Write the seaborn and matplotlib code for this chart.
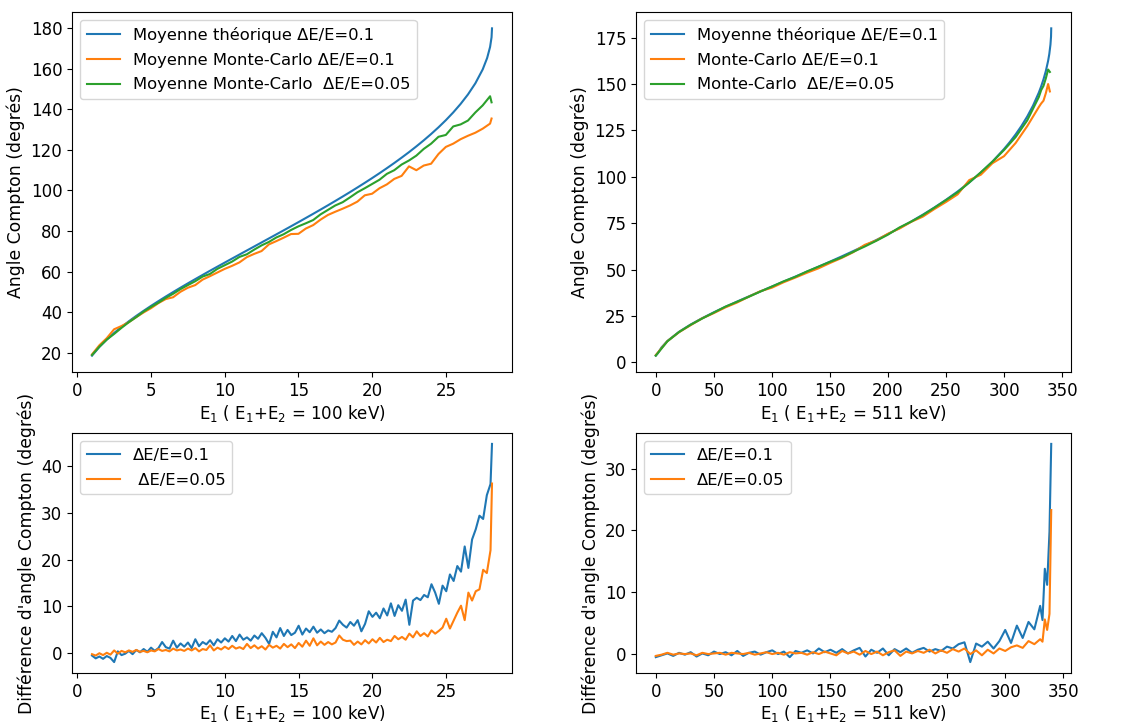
import numpy as np
import matplotlib
matplotlib.use("Agg")
import matplotlib.pyplot as plt
import seaborn as sns

# ---------------- data : E1+E2 = 100 keV ----------------
x_theo_100 = list(np.arange(1, 28, 0.5)) + [27.8, 28.0, 28.1, 28.13]
theo_100 = [18.49, 22.77, 26.40, 29.68, 32.63, 35.45, 38.09, 40.60, 43.03, 45.36,
            47.64, 49.85, 52.02, 54.15, 56.24, 58.31, 60.36, 62.38, 64.39, 66.39,
            68.38, 70.37, 72.35, 74.34, 76.33, 78.32, 80.32, 82.33, 84.36, 86.41,
            88.47, 90.56, 92.67, 94.82, 96.99, 99.20, 101.46, 103.76, 106.11, 108.52,
            111.00, 113.55, 116.19, 118.91, 121.76, 124.73, 127.86, 131.16, 134.69, 138.51,
            142.70, 147.39, 152.87, 159.75, 165.37, 170.82, 175.63, 180.0]

x_mc_100 = list(np.arange(1, 28.01, 0.5)) + [28.1]
mc01_100 = [19.1, 23.6, 27.1, 31.5, 33.1, 35.0, 37.5, 39.8, 41.9, 44.4,
            46.4, 47.3, 50.0, 52.0, 53.3, 56.0, 57.7, 59.5, 61.3, 62.8,
            64.5, 67.1, 68.7, 70.1, 73.4, 75.0, 76.7, 78.5, 78.6, 81.2,
            82.9, 85.6, 87.9, 89.5, 91.0, 92.6, 94.5, 97.6, 98.4, 101.1,
            103.0, 105.7, 107.2, 111.9, 110.0, 112.3, 113.2, 118.0, 121.5, 123.1,
            125.3, 127.0, 128.5, 130.5, 133.0, 135.5]
mc005_100 = [18.8, 22.9, 26.4, 29.2, 32.2, 35.0, 37.5, 40.2, 42.5, 44.6,
             47.0, 49.0, 51.3, 53.3, 55.2, 57.5, 58.8, 61.3, 63.1, 64.9,
             67.2, 68.5, 70.8, 72.9, 74.6, 76.8, 78.4, 80.5, 82.3, 83.8,
             85.4, 88.2, 90.4, 92.6, 94.2, 96.6, 99.1, 101.1, 103.2, 105.3,
             108.2, 110.0, 112.8, 114.8, 117.2, 120.5, 123.1, 126.5, 127.4, 131.6,
             132.6, 134.5, 138.5, 142.0, 146.5, 143.5]

x_diff_100 = list(np.arange(1, 28.01, 0.25)) + [28.1]
diff01_100 = [-0.6, -1.2, -0.8, -1.3, -0.7, -1.1, -2.0, 0.3, -0.5, -0.2, 0.4, -0.3,
              0.6, 0.1, 0.8, 0.2, 1.1, 0.4, 1.0, 2.3, 1.2, 0.9, 2.6, 1.1,
              2.0, 1.3, 2.2, 1.0, 2.9, 1.4, 2.3, 1.8, 2.7, 1.6, 2.9, 2.2,
              3.1, 2.4, 3.6, 2.5, 3.9, 2.8, 3.3, 2.6, 3.7, 3.0, 4.2, 3.2,
              1.9, 4.5, 3.3, 5.3, 3.6, 4.9, 3.8, 4.3, 5.8, 3.9, 5.2, 4.4,
              5.6, 4.3, 5.0, 4.2, 4.8, 4.5, 5.3, 6.9, 6.0, 5.4, 6.6, 5.8,
              7.0, 4.6, 6.2, 8.9, 7.7, 8.6, 7.4, 9.5, 8.0, 10.6, 7.9, 10.2,
              9.0, 11.4, 6.0, 11.2, 11.8, 11.3, 12.4, 11.9, 14.7, 12.9, 10.5, 14.4,
              13.2, 16.8, 15.4, 18.6, 17.4, 22.8, 18.2, 24.3, 26.5, 29.4, 28.7, 33.8,
              36.2, 44.8]
diff005_100 = [-0.3, -0.6, -0.1, -0.5, 0.0, -0.4, 0.5, -0.2, 0.4, 0.1, 0.5, 0.2,
               0.6, 0.2, 0.4, 0.1, 0.5, 0.3, 0.8, 0.4, 0.6, 0.3, 0.9, 0.5,
               0.7, 0.4, 0.9, 0.5, 1.0, 0.3, 0.8, 0.6, 1.6, 0.5, 1.1, 0.7,
               1.3, 0.8, 1.5, 0.9, 1.2, 0.8, 1.9, 1.0, 1.6, 0.9, 1.4, 0.7,
               1.7, 1.1, 1.5, 0.9, 1.9, 1.2, 1.8, 1.0, 2.1, 1.3, 2.6, 1.5,
               3.1, 1.6, 2.4, 1.7, 2.3, 1.8, 2.2, 3.7, 2.8, 2.5, 2.6, 1.7,
               2.4, 1.8, 2.7, 2.0, 2.9, 2.2, 3.2, 2.3, 2.8, 2.5, 3.6, 2.9,
               3.4, 2.8, 4.1, 3.3, 4.6, 3.6, 4.2, 3.5, 4.8, 4.1, 4.7, 5.4,
               7.3, 5.2, 6.9, 8.6, 10.1, 7.0, 12.9, 11.2, 13.2, 13.6, 17.8, 17.1,
               22.0, 36.3]

# ---------------- data : E1+E2 = 511 keV ----------------
x_theo_511 = [0, 2, 5, 10] + list(range(20, 301, 10)) + [305, 310, 315, 320, 325, 330, 332,
                                                          334, 336, 338, 339, 340, 340.5, 340.67]
theo_511 = [3.59, 5.08, 8.06, 11.47,
            16.41, 20.34, 23.79, 26.93, 29.89, 32.72, 35.47, 38.17, 40.83,
            43.47, 46.13, 48.80, 51.49, 54.23, 57.03, 59.90, 62.86, 65.92, 69.09,
            72.40, 75.88, 79.54, 83.43, 87.58, 92.05, 96.91, 102.25, 108.19, 114.95,
            118.72, 122.84, 127.38, 132.48, 138.36, 145.40, 148.73, 152.50, 156.93,
            162.51, 166.15, 171.23, 175.6, 180.0]

x_mc_511 = [0] + list(range(10, 331, 10)) + [332, 334, 336, 338, 339.5]
mc01_511 = [3.9, 11.4, 16.2, 20.0, 23.7, 26.5, 29.6, 32.2, 35.3, 38.3, 40.2,
            43.1, 45.6, 48.2, 50.6, 53.5, 56.2, 59.3, 63.3, 65.7, 69.3,
            72.1, 75.7, 78.5, 82.6, 86.4, 90.5, 98.2, 101.1, 107.3, 111.1,
            118.2, 127.3, 137.6, 139.5, 141.0, 145.0, 150.0, 146.0]
mc005_511 = [3.6, 11.3, 16.3, 20.2, 23.6, 26.8, 30.0, 32.6, 35.3, 38.1, 40.8,
             43.6, 46.0, 48.9, 51.5, 54.1, 56.5, 59.5, 62.4, 65.5, 68.8,
             72.7, 75.8, 79.3, 83.3, 87.4, 91.6, 96.9, 102.4, 108.1, 114.4,
             121.4, 130.4, 143.0, 146.7, 149.0, 153.0, 157.8, 156.5]

x_diff_511 = [0] + list(range(5, 331, 5)) + [332, 334, 336, 338, 339.5]
diff01_511 = [-0.5,
              -0.2, 0.1, -0.3, 0.2, -0.1, 0.3, -0.4, 0.1, -0.2, 0.4,
              0.0, 0.3, -0.2, 0.5, -0.3, 0.2, 0.4, -0.1, 0.3, 0.6,
              0.0, 0.4, -0.5, 0.5, 0.2, 0.6, 0.1, 0.9, 0.3, 0.7,
              0.2, 0.8, 0.1, 0.6, 1.0, -0.4, 0.7, 0.2, 0.9, -0.2,
              0.8, 0.3, 0.9, 0.2, 0.7, 1.0, 0.4, 0.8, 0.5, 1.2,
              0.9, 1.6, 1.9, -1.3, 1.7, 1.2, 2.0, 0.9, 2.1, 3.9,
              1.8, 4.6, 2.6, 5.2, 4.0, 7.8,
              5.5, 13.8, 11.2, 19.8, 34.0]
diff005_511 = [-0.3,
               -0.1, 0.2, -0.1, 0.1, 0.0, 0.1, -0.2, 0.2, 0.0, 0.1,
               0.2, -0.1, 0.2, 0.1, 0.0, 0.2, -0.1, 0.1, 0.3, 0.0,
               0.2, -0.1, 0.3, 0.1, 0.2, -0.1, 0.3, 0.0, 0.4, 0.1,
               -0.2, 0.5, 0.1, 0.4, -0.1, 0.5, 0.0, 0.4, -0.2, 0.3,
               0.6, -0.3, 0.4, 0.1, 0.5, 0.2, 0.7, 0.1, 0.6, 0.2,
               0.8, 0.4, 0.9, 0.0, 0.6, -0.2, 0.7, 0.1, 0.9, 0.5,
               1.1, 1.4, 1.0, 2.1, 1.6, 2.4,
               2.0, 5.6, 3.9, 6.5, 23.3]

# ---------------- labels ----------------
xlabel_100 = "E$_1$ ( E$_1$+E$_2$ = 100 keV)"
xlabel_511 = "E$_1$ ( E$_1$+E$_2$ = 511 keV)"
ylabel_top = "Angle Compton (degrés)"
ylabel_bot = "Différence d'angle Compton (degrés)"

plt.rcParams["font.family"] = ["DejaVu Sans"]
plt.rcParams["font.size"] = 12

c0, c1, c2 = "#1f77b4", "#ff7f0e", "#2ca02c"

fig = plt.figure(figsize=(11.28, 7.24), dpi=100)
W, H = 1128, 724
ax_tl = fig.add_axes([72 / W, 1 - 372 / H, 440 / W, 360 / H])
ax_tr = fig.add_axes([636 / W, 1 - 372 / H, 435 / W, 360 / H])
ax_bl = fig.add_axes([72 / W, 1 - 673 / H, 440 / W, 240 / H])
ax_br = fig.add_axes([636 / W, 1 - 673 / H, 435 / W, 240 / H])

lw = 1.5
# top-left
sns.lineplot(x=x_theo_100, y=theo_100, ax=ax_tl, color=c0, lw=lw, label="Moyenne théorique ΔE/E=0.1")
sns.lineplot(x=x_mc_100, y=mc01_100, ax=ax_tl, color=c1, lw=lw, label="Moyenne Monte-Carlo ΔE/E=0.1")
sns.lineplot(x=x_mc_100, y=mc005_100, ax=ax_tl, color=c2, lw=lw, label="Moyenne Monte-Carlo  ΔE/E=0.05")
# top-right
sns.lineplot(x=x_theo_511, y=theo_511, ax=ax_tr, color=c0, lw=lw, label="Moyenne théorique ΔE/E=0.1")
sns.lineplot(x=x_mc_511, y=mc01_511, ax=ax_tr, color=c1, lw=lw, label="Monte-Carlo ΔE/E=0.1")
sns.lineplot(x=x_mc_511, y=mc005_511, ax=ax_tr, color=c2, lw=lw, label="Monte-Carlo  ΔE/E=0.05")
# bottom-left
sns.lineplot(x=x_diff_100, y=diff01_100, ax=ax_bl, color=c0, lw=lw, label="ΔE/E=0.1")
sns.lineplot(x=x_diff_100, y=diff005_100, ax=ax_bl, color=c1, lw=lw, label=" ΔE/E=0.05")
# bottom-right
sns.lineplot(x=x_diff_511, y=diff01_511, ax=ax_br, color=c0, lw=lw, label="ΔE/E=0.1")
sns.lineplot(x=x_diff_511, y=diff005_511, ax=ax_br, color=c1, lw=lw, label="ΔE/E=0.05")

for ax, xl, yl in [(ax_tl, xlabel_100, ylabel_top), (ax_tr, xlabel_511, ylabel_top),
                   (ax_bl, xlabel_100, ylabel_bot), (ax_br, xlabel_511, ylabel_bot)]:
    ax.set_xlabel(xl, labelpad=2, fontsize=12)
    ax.set_ylabel(yl, fontsize=12.4)
    ax.legend(loc="upper left", fontsize=11.8, labelspacing=0.6)

ax_tl.set_yticks([20, 40, 60, 80, 100, 120, 140, 160, 180])
ax_tr.set_yticks([0, 25, 50, 75, 100, 125, 150, 175])
ax_bl.set_yticks([0, 10, 20, 30, 40])
ax_br.set_yticks([0, 10, 20, 30])
ax_tl.set_xticks([0, 5, 10, 15, 20, 25])
ax_bl.set_xticks([0, 5, 10, 15, 20, 25])
ax_tr.set_xticks([0, 50, 100, 150, 200, 250, 300, 350])
ax_br.set_xticks([0, 50, 100, 150, 200, 250, 300, 350])

fig.savefig("out.png", dpi=100)
